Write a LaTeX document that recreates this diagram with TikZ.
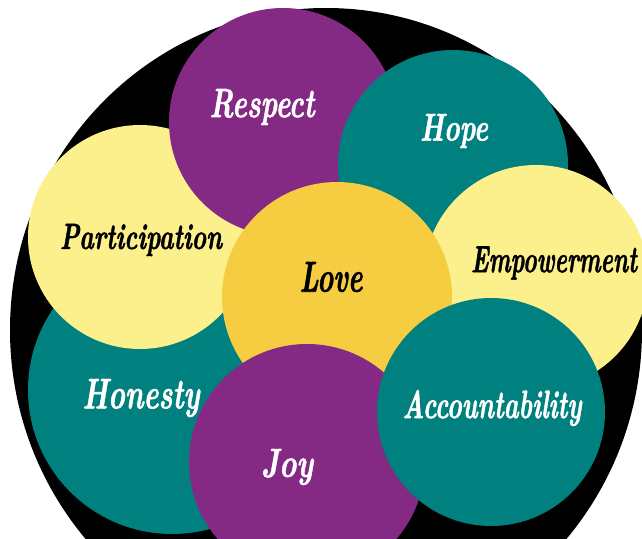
\documentclass[tikz,border=0pt]{standalone}
\usepackage{fontspec}
\usepackage{graphicx}
\usetikzlibrary{shapes.geometric}
\definecolor{vpurple}{RGB}{132,42,133}
\definecolor{vteal}{RGB}{0,128,127}
\definecolor{vlight}{RGB}{251,240,139}
\definecolor{vgold}{RGB}{246,205,65}
\newfontfamily\brushfont{Latin Modern Roman}[BoldItalicFeatures={FakeBold=1.6}]
\newcommand{\brushword}[3]{\resizebox*{#1}{#2}{#3}}
\begin{document}
\begin{tikzpicture}[x=1pt,y=-1pt,
  blob/.style={circle, inner sep=0pt, minimum size=#1},
  word/.style={font=\brushfont\fontsize{27}{30}\selectfont\bfseries\itshape, inner sep=0pt},
  onlight/.style={word, text=black},
  ondark/.style={word, text=white}]
\clip (0,0) rectangle (642,538);
\node[ellipse, fill=black, inner sep=0pt, minimum width=632pt, minimum height=644pt] (frame) at (326,330) {};
\node[blob=288pt, fill=vteal] (honesty) at (172,390) {};
\node[blob=224pt, fill=vlight] (participation) at (140,237) {};
\node[blob=228pt, fill=vpurple] (respect) at (283,122) {};
\node[blob=230pt, fill=vteal] (hope) at (453,165) {};
\node[blob=224pt, fill=vlight] (empowerment) at (536,277) {};
\node[blob=230pt, fill=vgold] (love) at (337,297) {};
\node[blob=236pt, fill=vpurple] (joy) at (307,462) {};
\node[blob=228pt, fill=vteal] (accountability) at (491,412) {};
\node[ondark] (respectlabel) at (262,107) {\brushword{105pt}{36pt}{Respect}};
\node[ondark] (hopelabel) at (454,131) {\brushword{68pt}{34pt}{Hope}};
\node[onlight] (participationlabel) at (141,240) {\brushword{162pt}{32pt}{Participation}};
\node[onlight] (lovelabel) at (331,277) {\brushword{63pt}{30pt}{Love}};
\node[onlight] (empowermentlabel) at (554,263) {\brushword{166pt}{33pt}{Empowerment}};
\node[ondark] (honestylabel) at (141,398) {\brushword{117pt}{38pt}{Honesty}};
\node[ondark] (joylabel) at (287,467) {\brushword{52pt}{36pt}{Joy}};
\node[ondark] (accountabilitylabel) at (492,408) {\brushword{179pt}{36pt}{Accountability}};
\end{tikzpicture}
\end{document}
